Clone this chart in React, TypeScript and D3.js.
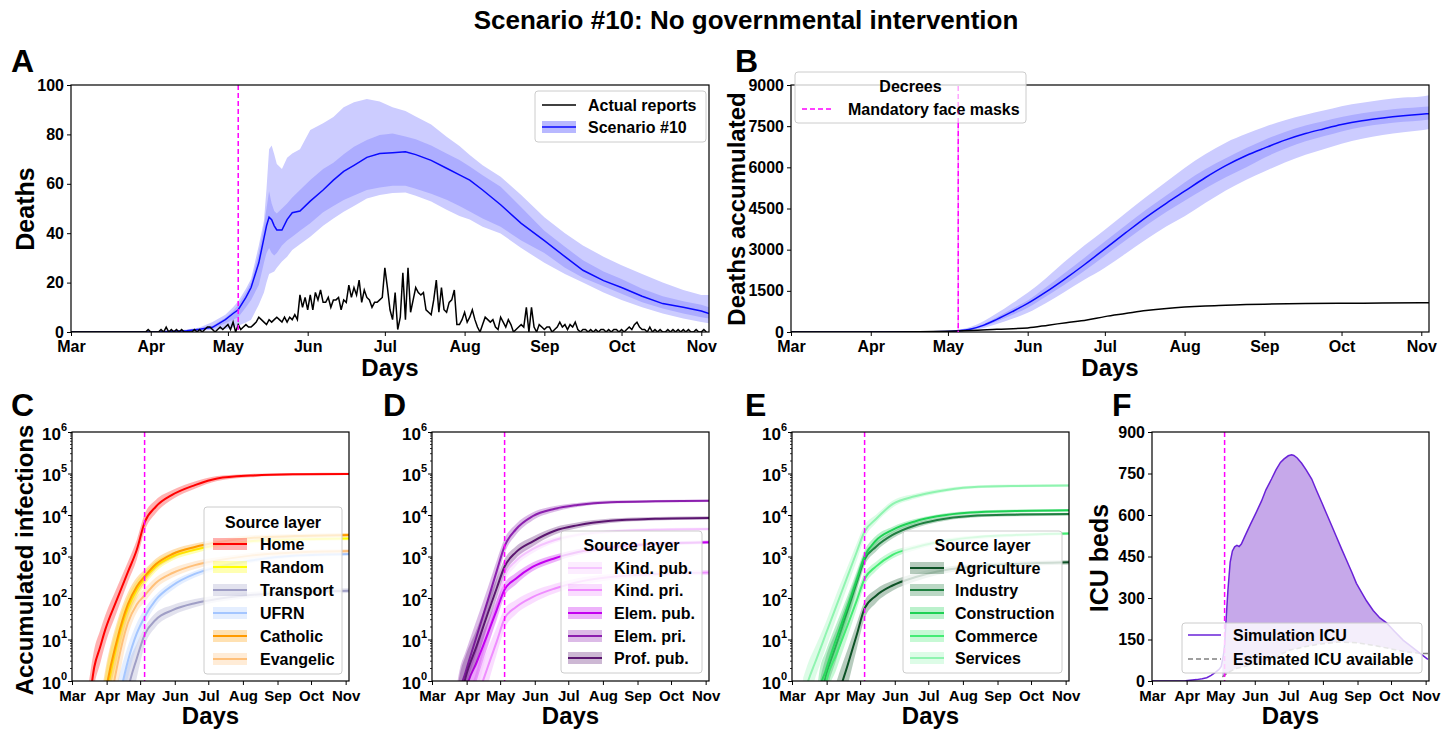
import React, { useEffect, useRef } from 'react';
import * as d3 from 'd3';

const FONT = "'Liberation Sans', Arial, Helvetica, sans-serif";

// ---------------- shared axis data ----------------
const MONTH_LABELS = ['Mar', 'Apr', 'May', 'Jun', 'Jul', 'Aug', 'Sep', 'Oct', 'Nov'];
const MONTH_DAYS = [0, 31, 61, 92, 122, 153, 184, 214, 245];
const DAY_MAX = 248;
const DECREE_DAY = 65;
const DEATH_TICKS = [0, 20, 40, 60, 80, 100];
const CUM_TICKS = [0, 1500, 3000, 4500, 6000, 7500, 9000];
const ICU_TICKS = [0, 150, 300, 450, 600, 750, 900];
const LOG_TICKS = [1, 10, 100, 1000, 10000, 100000, 1000000];

// ---------------- panel A: daily deaths ----------------
const ACTUAL_DAILY = [
  0, 0, 0, 0, 0, 0, 0, 0, 0, 0,
  0, 0, 0, 0, 0, 0, 0, 0, 0, 0,
  0, 0, 0, 0, 0, 0, 0, 0, 0, 0,
  1, 0, 0, 0, 0, 1, 0, 2, 0, 1,
  0, 1, 0, 1, 0, 0, 0, 0, 1, 0,
  1, 0, 1, 2, 2, 1, 0, 1, 2, 1,
  2, 3, 1, 4, 0, 3, 1, 2, 3, 2,
  2, 3, 4, 6, 5, 4, 3, 5, 4, 5,
  6, 5, 4, 6, 4, 6, 5, 7, 5, 15,
  10, 14, 9, 15, 9, 16, 13, 17, 12, 12,
  14, 10, 13, 13, 14, 9, 13, 12, 19, 14,
  18, 15, 21, 12, 17, 14, 13, 10, 12, 12,
  13, 14, 26, 18, 9, 5, 16, 1, 6, 24,
  5, 26, 8, 13, 18, 16, 15, 16, 9, 8,
  7, 13, 21, 8, 18, 9, 8, 12, 13, 17,
  3, 3, 5, 8, 4, 6, 9, 5, 2, 0,
  3, 6, 5, 4, 5, 2, 1, 6, 4, 2,
  5, 3, 0, 1, 2, 3, 2, 10, 0, 10,
  2, 0, 3, 2, 1, 2, 2, 0, 1, 2,
  4, 2, 3, 1, 3, 2, 4, 1, 0, 1,
  1, 0, 1, 0, 1, 0, 1, 1, 0, 1,
  0, 1, 1, 0, 1, 0, 1, 2, 1, 3,
  4, 2, 1, 1, 0, 2, 0, 1, 0, 1,
  0, 0, 1, 0, 1, 0, 1, 0, 1, 0,
  1, 0, 0, 1, 0, 0, 1, 0,
];
const A_DAYS = [0, 35, 45, 50, 55, 60, 63, 65, 68, 70, 73, 75, 76, 77, 78, 79, 80, 82, 84, 86, 89, 93, 98, 102, 106, 110, 115, 120, 125, 130, 134, 140, 146, 151, 155, 160, 167, 175, 184, 192, 199, 207, 214, 222, 230, 238, 245, 248];
const A_MID = [0, 0.1, 0.5, 1.1, 1.9, 5, 7.5, 9, 14, 18, 28, 38, 43, 46.5, 45.5, 43, 41.3, 41.3, 45.5, 48.3, 49, 53, 57.5, 61.5, 65, 67.5, 70.7, 72.3, 72.6, 73, 71.8, 69.5, 66.3, 63.6, 61.5, 57.5, 51.5, 44, 37, 30.5, 25, 20.8, 18, 14.5, 11.5, 10, 8.5, 7.5];
const A_IN_HI = [0, 0.2, 0.8, 1.5, 2.5, 5.8, 8.5, 11, 16, 20, 32, 43, 50, 57, 52, 49, 48, 50, 52, 54.5, 57.5, 61.5, 66, 68.5, 72, 75, 77.7, 79.8, 80.4, 79.2, 78, 75.5, 72.3, 69.6, 67, 63.5, 58.8, 50.5, 41, 34.5, 29, 24.5, 21.5, 17.5, 14.5, 12.5, 11, 10];
const A_IN_LO = [0, 0, 0.2, 0.8, 1.2, 3.5, 5, 6, 10, 13, 19, 28, 32, 34, 32, 31, 32, 35, 37, 38.6, 41, 44, 48.5, 51, 53.4, 55.3, 57.5, 58.5, 59.2, 59.2, 58, 56, 53.5, 51, 48.8, 46, 42.6, 37, 32, 26, 22, 18.5, 15.5, 12, 9.5, 7.5, 6, 5.5];
const A_OUT_HI = [0, 0.3, 1, 1.8, 4, 7, 10, 12.5, 17.5, 21.5, 35, 45, 58, 74, 75.5, 72, 68, 66, 70.5, 72.3, 74, 81.8, 84.5, 87, 91, 93, 94.3, 93.3, 91, 89.5, 87.2, 84, 79, 75.3, 71.7, 67.5, 62.9, 55.5, 46.5, 40, 35, 30.5, 27, 23.5, 20, 17, 15, 15];
const A_OUT_LO = [0, 0, 0, 0.5, 0.8, 1.2, 1.8, 2.5, 3.8, 5, 11, 16, 20, 23.5, 24, 24.5, 26, 28.5, 30.5, 33.2, 35.5, 38.6, 43, 46, 48.7, 51, 54, 55.5, 56.3, 56.5, 55.2, 52.8, 49.5, 47, 45.5, 42.6, 39.9, 34, 28, 23.5, 20, 16, 13, 10, 7.5, 5.5, 4, 3.5];

// ---------------- panel B: accumulated deaths ----------------
const B_DAYS = [0, 50, 60, 65, 70, 75, 80, 86, 92, 99, 106, 114, 122, 130, 138, 146, 153, 161, 169, 177, 184, 192, 200, 207, 214, 222, 230, 238, 245, 248];
const B_MID = [0, 5, 20, 45, 110, 250, 460, 740, 1040, 1450, 1900, 2450, 3030, 3610, 4180, 4700, 5130, 5620, 6060, 6430, 6700, 6990, 7230, 7400, 7560, 7700, 7800, 7880, 7935, 7955];
const B_IN_HI = [0, 7, 25, 55, 140, 300, 540, 850, 1150, 1620, 2120, 2700, 3300, 3880, 4450, 4980, 5450, 5930, 6330, 6700, 7000, 7290, 7520, 7680, 7830, 7970, 8070, 8150, 8200, 8220];
const B_IN_LO = [0, 4, 15, 35, 90, 200, 380, 620, 880, 1280, 1700, 2220, 2780, 3330, 3880, 4380, 4780, 5230, 5640, 6000, 6350, 6680, 6950, 7130, 7310, 7470, 7580, 7660, 7710, 7740];
const B_OUT_HI = [0, 10, 35, 80, 190, 400, 680, 1050, 1430, 1950, 2530, 3150, 3730, 4330, 4920, 5480, 5980, 6480, 6900, 7220, 7470, 7720, 7920, 8070, 8230, 8350, 8460, 8540, 8580, 8630];
const B_OUT_LO = [0, 2, 10, 20, 60, 150, 290, 480, 700, 1050, 1440, 1900, 2340, 2850, 3370, 3850, 4220, 4700, 5160, 5550, 5850, 6180, 6460, 6660, 6860, 7040, 7180, 7280, 7350, 7400];
const ACT_CUM_DAYS = [0, 30, 50, 61, 70, 80, 92, 100, 107, 115, 122, 130, 138, 146, 153, 161, 169, 177, 184, 200, 214, 230, 245, 248];
const ACT_CUM = [0, 1, 12, 30, 55, 100, 150, 250, 340, 440, 560, 670, 780, 860, 910, 950, 975, 1000, 1015, 1035, 1045, 1055, 1065, 1068];

// ---------------- panels C, D, E: accumulated infections by layer ----------------
const LOG_DAYS = [10, 15, 20, 25, 30, 40, 50, 58, 65, 75, 90, 110, 130, 160, 200, 248];
// C
const HOME_MID = [0.03, 0.25, 2.2, 6.3, 18, 89, 420, 1450, 6600, 15800, 30900, 52500, 75900, 89100, 95500, 97700];
const HOME_LO = [0.01, 0.08, 0.8, 2.5, 8, 45, 240, 850, 4100, 11000, 24000, 43000, 66000, 81000, 89000, 91500];
const HOME_HI = [0.12, 0.9, 6, 16, 40, 175, 740, 2500, 10500, 23000, 40000, 64000, 87000, 97500, 102000, 104000];
const RANDOM_MID = [0.001, 0.001, 0.003, 0.03, 0.3, 7, 56, 160, 295, 575, 1000, 1450, 1860, 2340, 2570, 2700];
const RANDOM_LO = [0.001, 0.001, 0.001, 0.01, 0.1, 2.5, 28, 95, 200, 430, 800, 1200, 1600, 2050, 2300, 2450];
const RANDOM_HI = [0.001, 0.003, 0.02, 0.2, 1.5, 20, 110, 260, 430, 780, 1250, 1750, 2200, 2700, 2900, 3000];
const TRANSPORT_MID = [0.001, 0.001, 0.001, 0.001, 0.001, 0.01, 0.6, 3.5, 13, 30, 51, 75, 95, 118, 138, 150];
const TRANSPORT_LO = [0.001, 0.001, 0.001, 0.001, 0.001, 0.001, 0.1, 1.2, 7, 20, 38, 60, 80, 100, 120, 132];
const TRANSPORT_HI = [0.001, 0.001, 0.001, 0.001, 0.01, 0.2, 2.5, 8, 20, 44, 68, 95, 115, 140, 160, 172];
const UFRN_MID = [0.001, 0.001, 0.001, 0.001, 0.01, 0.2, 3, 14, 35, 90, 200, 380, 550, 800, 1050, 1150];
const UFRN_LO = [0.001, 0.001, 0.001, 0.001, 0.001, 0.05, 1.2, 7, 22, 65, 155, 310, 470, 700, 940, 1040];
const UFRN_HI = [0.001, 0.001, 0.001, 0.005, 0.05, 0.8, 7, 25, 55, 120, 250, 450, 630, 900, 1160, 1260];
const CATHOLIC_MID = [0.001, 0.001, 0.005, 0.05, 0.5, 9, 70, 190, 330, 650, 1150, 1700, 2200, 2800, 3100, 3300];
const CATHOLIC_LO = [0.001, 0.001, 0.001, 0.01, 0.15, 3, 35, 115, 230, 490, 900, 1400, 1850, 2400, 2750, 2950];
const CATHOLIC_HI = [0.001, 0.005, 0.04, 0.3, 2, 25, 135, 310, 480, 880, 1450, 2050, 2600, 3250, 3500, 3700];
const EVANGELIC_MID = [0.001, 0.001, 0.001, 0.005, 0.05, 2, 25, 70, 115, 230, 400, 620, 800, 1050, 1250, 1350];
const EVANGELIC_LO = [0.001, 0.001, 0.001, 0.001, 0.005, 0.5, 12, 45, 80, 170, 310, 500, 680, 900, 1100, 1200];
const EVANGELIC_HI = [0.001, 0.001, 0.005, 0.04, 0.3, 6, 50, 110, 170, 310, 520, 770, 960, 1220, 1420, 1500];
// D
const KINDPUB_MID = [0.001, 0.001, 0.001, 0.02, 0.2, 1.5, 14, 70, 340, 780, 1500, 2500, 3300, 4000, 4400, 4600];
const KINDPUB_LO = [0.001, 0.001, 0.001, 0.005, 0.05, 0.5, 6, 38, 220, 580, 1200, 2150, 2950, 3650, 4050, 4250];
const KINDPUB_HI = [0.001, 0.001, 0.005, 0.08, 0.7, 4, 30, 120, 500, 1050, 1850, 2900, 3700, 4400, 4800, 5000];
const KINDPRI_MID = [0.001, 0.001, 0.001, 0.001, 0.01, 0.3, 2.2, 9, 32, 60, 105, 170, 240, 320, 380, 410];
const KINDPRI_LO = [0.001, 0.001, 0.001, 0.001, 0.001, 0.05, 0.8, 4.5, 18, 40, 75, 130, 190, 270, 330, 360];
const KINDPRI_HI = [0.001, 0.001, 0.001, 0.001, 0.1, 1.2, 6, 20, 55, 90, 145, 220, 300, 380, 440, 470];
const ELEMPUB_MID = [0.001, 0.001, 0.001, 0.05, 0.5, 2.8, 14, 52, 160, 290, 560, 910, 1260, 1660, 2000, 2200];
const ELEMPUB_LO = [0.001, 0.001, 0.001, 0.01, 0.1, 1, 7, 30, 110, 210, 440, 740, 1080, 1450, 1800, 2000];
const ELEMPUB_HI = [0.001, 0.001, 0.01, 0.3, 1.5, 7, 28, 90, 230, 400, 720, 1100, 1500, 1880, 2230, 2420];
const ELEMPRI_MID = [0.001, 0.001, 0.02, 0.5, 1.6, 12, 89, 450, 1780, 4470, 9330, 14100, 17400, 20400, 21400, 21900];
const ELEMPRI_LO = [0.001, 0.001, 0.005, 0.1, 0.6, 5, 45, 260, 1200, 3300, 7400, 12000, 15500, 18800, 20000, 20600];
const ELEMPRI_HI = [0.001, 0.02, 0.3, 2, 5, 30, 180, 800, 2700, 6000, 11500, 16500, 19500, 22300, 23000, 23400];
const PROFPUB_MID = [0.001, 0.003, 0.03, 0.3, 1.2, 7, 43, 174, 575, 1260, 2290, 4170, 5620, 7240, 8130, 8510];
const PROFPUB_LO = [0.001, 0.001, 0.005, 0.05, 0.4, 3, 22, 100, 380, 900, 1750, 3400, 4800, 6400, 7400, 7800];
const PROFPUB_HI = [0.001, 0.02, 0.2, 1.5, 4, 18, 90, 300, 870, 1750, 3000, 5100, 6600, 8200, 9000, 9300];
// E
const AGRI_MID = [0.001, 0.001, 0.001, 0.001, 0.01, 0.3, 2.5, 13, 56, 112, 200, 316, 436, 562, 660, 724];
const AGRI_LO = [0.001, 0.001, 0.001, 0.001, 0.001, 0.05, 0.8, 6, 32, 75, 150, 250, 360, 480, 580, 640];
const AGRI_HI = [0.001, 0.001, 0.001, 0.001, 0.1, 1, 6, 25, 85, 160, 260, 390, 520, 650, 750, 810];
const INDUSTRY_MID = [0.001, 0.001, 0.01, 0.3, 1.2, 8, 52, 240, 850, 1700, 3300, 5600, 7600, 9500, 10200, 10500];
const INDUSTRY_LO = [0.001, 0.001, 0.002, 0.05, 0.4, 3.5, 28, 150, 600, 1300, 2700, 4800, 6700, 8600, 9300, 9600];
const INDUSTRY_HI = [0.001, 0.01, 0.1, 1, 3.5, 18, 95, 380, 1200, 2200, 4000, 6500, 8500, 10400, 11100, 11400];
const CONSTR_MID = [0.001, 0.001, 0.02, 0.6, 1.7, 11, 65, 280, 1000, 2400, 4400, 7000, 9300, 11500, 12500, 13000];
const CONSTR_LO = [0.001, 0.001, 0.005, 0.1, 0.6, 5, 35, 170, 700, 1850, 3700, 6100, 8300, 10500, 11500, 12000];
const CONSTR_HI = [0.001, 0.02, 0.2, 2, 5, 25, 120, 450, 1400, 3100, 5200, 8000, 10300, 12500, 13500, 14000];
const COMMERCE_MID = [0.001, 0.001, 0.001, 0.1, 0.8, 4.5, 23, 88, 290, 570, 1100, 1650, 2200, 2850, 3300, 3600];
const COMMERCE_LO = [0.001, 0.001, 0.001, 0.02, 0.3, 2, 12, 55, 200, 440, 900, 1420, 1950, 2550, 3000, 3300];
const COMMERCE_HI = [0.001, 0.001, 0.01, 0.5, 2.2, 11, 45, 140, 400, 740, 1350, 1900, 2500, 3150, 3600, 3900];
const SERVICES_MID = [0.4, 1.1, 2.5, 5.6, 13, 67, 350, 1300, 4000, 7900, 18200, 28200, 37000, 46800, 50100, 51300];
const SERVICES_LO = [0.1, 0.3, 1, 2.5, 6, 35, 200, 800, 2800, 6300, 15000, 24500, 33000, 43000, 46500, 48000];
const SERVICES_HI = [1.2, 3, 6, 12, 25, 130, 600, 2100, 5700, 10000, 22000, 32500, 41500, 51000, 54000, 55000];

// ---------------- panel F: ICU ----------------
const ICU_DAYS = [0, 20, 30, 34, 40, 45, 49, 53, 57, 60, 62, 64, 65, 66, 67, 68, 70, 72, 74, 76, 78, 80, 83, 88, 93, 98, 102, 107, 111, 115, 118, 122, 125, 127, 130, 134, 138, 143, 147, 152, 156, 161, 165, 170, 174, 179, 183, 188, 192, 198, 204, 210, 217, 225, 232, 240, 247];
const ICU_SIM = [0, 0, 1, 2.4, 5, 8, 12, 20, 32, 42, 53, 95, 130, 200, 265, 330, 430, 470, 485, 490, 486, 495, 522, 565, 607, 650, 691, 730, 763, 790, 802, 814, 818, 815, 806, 787, 763, 730, 691, 645, 607, 560, 522, 475, 438, 392, 353, 318, 290, 255, 228, 210, 180, 147, 125, 100, 78];
const AVAIL_DAYS = [63, 68, 75, 87, 98, 108, 123, 138, 153, 168, 183, 198, 213, 228, 242, 248];
const AVAIL_ICU = [15, 30, 45, 56, 68, 81, 111, 125, 135, 141, 138, 129, 117, 105, 99, 99];

// ---------------- layout ----------------
type Box = { l: number; r: number; t: number; b: number };
const BOX_A: Box = { l: 71, r: 709, t: 85, b: 332 };
const BOX_B: Box = { l: 791, r: 1429, t: 85, b: 332 };
const BOX_C: Box = { l: 72, r: 349, t: 432, b: 681 };
const BOX_D: Box = { l: 432, r: 709, t: 432, b: 681 };
const BOX_E: Box = { l: 792, r: 1069, t: 432, b: 681 };
const BOX_F: Box = { l: 1152, r: 1429, t: 432, b: 681 };

function styleText(sel: any, size: number) {
  sel.attr('font-family', FONT).attr('font-weight', 'bold').attr('font-size', size).attr('fill', '#000');
}

function clipFor(defs: any, id: string, box: Box) {
  defs.append('clipPath').attr('id', id).append('rect')
    .attr('x', box.l).attr('y', box.t).attr('width', box.r - box.l).attr('height', box.b - box.t);
}

function xAxis(g: any, x: any, box: Box, size: number) {
  const ax = g.append('g').attr('transform', `translate(0,${box.b})`)
    .call(d3.axisBottom(x).tickValues(MONTH_DAYS).tickFormat((_: any, i: number) => MONTH_LABELS[i]).tickSize(4).tickPadding(5));
  ax.select('.domain').remove();
  styleText(ax.selectAll('text'), size);
  ax.selectAll('line').attr('stroke', '#000');
}

function yAxisLinear(g: any, y: any, box: Box, ticks: number[], size: number) {
  const ax = g.append('g').attr('transform', `translate(${box.l},0)`)
    .call(d3.axisLeft(y).tickValues(ticks).tickFormat(d3.format('d')).tickSize(4).tickPadding(3));
  ax.select('.domain').remove();
  styleText(ax.selectAll('text'), size);
  ax.selectAll('line').attr('stroke', '#000');
}

function yAxisLog(g: any, y: any, box: Box) {
  const ax = g.append('g').attr('transform', `translate(${box.l},0)`)
    .call(d3.axisLeft(y).tickValues(LOG_TICKS).tickFormat(() => '').tickSize(4).tickPadding(1));
  ax.select('.domain').remove();
  ax.selectAll('line').attr('stroke', '#000');
  ax.selectAll('.tick text').each(function (this: any, d: any) {
    const t = d3.select(this);
    styleText(t, 17);
    t.attr('dy', '0.42em');
    t.append('tspan').text('10');
    t.append('tspan').attr('dy', '-0.8em').attr('font-size', 11).text(String(Math.round(Math.log10(d))));
  });
  const minor: number[] = [];
  for (let e = 0; e < 6; e++) for (let k = 2; k < 10; k++) minor.push(k * Math.pow(10, e));
  g.append('g').selectAll('line').data(minor).join('line')
    .attr('x1', box.l - 2).attr('x2', box.l).attr('y1', (d: number) => y(d)).attr('y2', (d: number) => y(d))
    .attr('stroke', '#000').attr('stroke-width', 0.8);
}

function frame(g: any, box: Box) {
  g.append('rect').attr('x', box.l).attr('y', box.t).attr('width', box.r - box.l).attr('height', box.b - box.t)
    .attr('fill', 'none').attr('stroke', '#000').attr('stroke-width', 1.2);
}

function decree(g: any, x: any, box: Box, top?: number) {
  g.append('line').attr('x1', x(DECREE_DAY)).attr('x2', x(DECREE_DAY))
    .attr('y1', top ?? box.t).attr('y2', box.b)
    .attr('stroke', '#ff00ff').attr('stroke-width', 1.5).attr('stroke-dasharray', '5,3');
}

function label(g: any, text: string, x: number, y: number, size: number, rotate = false, anchor = 'middle') {
  const t = g.append('text').attr('text-anchor', anchor).text(text);
  styleText(t, size);
  if (rotate) t.attr('transform', `translate(${x},${y}) rotate(-90)`);
  else t.attr('x', x).attr('y', y);
  return t;
}

interface Entry { label: string; color: string; kind: 'band' | 'line' | 'dash'; band?: string; bandOpacity?: number; width?: number }

function legend(g: any, o: { x: number; y: number; w: number; h: number; title?: string; titleY?: number; entries: Entry[]; ys: number[]; px: number; pw: number; tx: number; size: number }) {
  g.append('rect').attr('x', o.x).attr('y', o.y).attr('width', o.w).attr('height', o.h).attr('rx', 3)
    .attr('fill', '#fff').attr('fill-opacity', 0.8).attr('stroke', '#cccccc').attr('stroke-width', 1);
  if (o.title) label(g, o.title, o.x + o.w / 2, o.titleY as number, o.size);
  o.entries.forEach((e, i) => {
    const cy = o.ys[i];
    if (e.kind === 'band') {
      g.append('rect').attr('x', o.px).attr('y', cy - 6).attr('width', o.pw).attr('height', 12)
        .attr('fill', e.band ?? e.color).attr('fill-opacity', e.bandOpacity ?? 0.3);
    }
    const ln = g.append('line').attr('x1', o.px).attr('x2', o.px + o.pw).attr('y1', cy).attr('y2', cy)
      .attr('stroke', e.color).attr('stroke-width', e.width ?? 2);
    if (e.kind === 'dash') ln.attr('stroke-dasharray', '5,3');
    const t = g.append('text').attr('x', o.tx).attr('y', cy).attr('dy', '0.36em').text(e.label);
    styleText(t, o.size);
  });
}

interface LogSeries { name: string; color: string; mid: number[]; lo: number[]; hi: number[]; op?: number }

function logPanel(svg: any, defs: any, id: string, box: Box, series: LogSeries[]) {
  const x = d3.scaleLinear().domain([0, DAY_MAX]).range([box.l, box.r]);
  const y = d3.scaleLog().domain([1, 1e6]).range([box.b, box.t]);
  clipFor(defs, id, box);
  const plot = svg.append('g').attr('clip-path', `url(#${id})`);
  const area = d3.area<any>().x((p) => x(p.d)).y0((p) => y(p.lo)).y1((p) => y(p.hi)).curve(d3.curveMonotoneX);
  const line = d3.line<any>().x((p) => x(p.d)).y((p) => y(p.m)).curve(d3.curveMonotoneX);
  series.forEach((s) => {
    const pts = LOG_DAYS.map((d, i) => ({ d, m: s.mid[i], lo: s.lo[i], hi: s.hi[i] }));
    plot.append('path').datum(pts).attr('d', area).attr('fill', s.color).attr('fill-opacity', s.op ?? 0.3);
    plot.append('path').datum(pts).attr('d', line).attr('fill', 'none').attr('stroke', s.color).attr('stroke-width', 2);
  });
  decree(plot, x, box);
  frame(svg, box);
  xAxis(svg, x, box, 15);
  yAxisLog(svg, y, box);
  label(svg, 'Days', (box.l + box.r) / 2, 724, 24);
  return { x, y };
}

function draw(svgEl: SVGSVGElement) {
  const svg = d3.select(svgEl);
  svg.selectAll('*').remove();
  const defs = svg.append('defs');

  label(svg, 'Scenario #10: No governmental intervention', 746, 29, 26);

  // ---------- A ----------
  {
    const box = BOX_A;
    const x = d3.scaleLinear().domain([0, DAY_MAX]).range([box.l, box.r]);
    const y = d3.scaleLinear().domain([0, 100]).range([box.b, box.t]);
    clipFor(defs, 'clipA', box);
    const plot = svg.append('g').attr('clip-path', 'url(#clipA)');
    const pts = A_DAYS.map((d, i) => ({ d, m: A_MID[i], il: A_IN_LO[i], ih: A_IN_HI[i], ol: A_OUT_LO[i], oh: A_OUT_HI[i] }));
    plot.append('path').datum(pts).attr('d', d3.area<any>().x((p) => x(p.d)).y0((p) => y(p.ol)).y1((p) => y(p.oh))).attr('fill', '#ccccff');
    plot.append('path').datum(pts).attr('d', d3.area<any>().x((p) => x(p.d)).y0((p) => y(p.il)).y1((p) => y(p.ih))).attr('fill', '#adadff');
    plot.append('path').datum(pts).attr('d', d3.line<any>().x((p) => x(p.d)).y((p) => y(p.m))).attr('fill', 'none').attr('stroke', '#0a0aff').attr('stroke-width', 1.5);
    plot.append('path').datum(ACTUAL_DAILY).attr('d', d3.line<number>().x((_, i) => x(i)).y((v) => y(v))).attr('fill', 'none').attr('stroke', '#000').attr('stroke-width', 1.5);
    decree(plot, x, box);
    frame(svg, box);
    xAxis(svg, x, box, 16);
    yAxisLinear(svg, y, box, DEATH_TICKS, 16);
    label(svg, 'A', 11, 72, 32, false, 'start');
    label(svg, 'Deaths', 34, 209, 25, true);
    label(svg, 'Days', 390, 376, 24);
    legend(svg, {
      x: 535, y: 91, w: 171, h: 51, ys: [105, 127], px: 542, pw: 34, tx: 588, size: 16,
      entries: [
        { label: 'Actual reports', color: '#000', kind: 'line', width: 1.5 },
        { label: 'Scenario #10', color: '#0a0aff', kind: 'band', band: '#b8b8ff', bandOpacity: 1, width: 1.5 },
      ],
    });
  }

  // ---------- B ----------
  {
    const box = BOX_B;
    const x = d3.scaleLinear().domain([0, DAY_MAX]).range([box.l, box.r]);
    const y = d3.scaleLinear().domain([0, 9000]).range([box.b, box.t]);
    clipFor(defs, 'clipB', box);
    const plot = svg.append('g').attr('clip-path', 'url(#clipB)');
    const pts = B_DAYS.map((d, i) => ({ d, m: B_MID[i], il: B_IN_LO[i], ih: B_IN_HI[i], ol: B_OUT_LO[i], oh: B_OUT_HI[i] }));
    const c = d3.curveMonotoneX;
    plot.append('path').datum(pts).attr('d', d3.area<any>().x((p) => x(p.d)).y0((p) => y(p.ol)).y1((p) => y(p.oh)).curve(c)).attr('fill', '#ccccff');
    plot.append('path').datum(pts).attr('d', d3.area<any>().x((p) => x(p.d)).y0((p) => y(p.il)).y1((p) => y(p.ih)).curve(c)).attr('fill', '#adadff');
    plot.append('path').datum(pts).attr('d', d3.line<any>().x((p) => x(p.d)).y((p) => y(p.m)).curve(c)).attr('fill', 'none').attr('stroke', '#0a0aff').attr('stroke-width', 1.5);
    const act = ACT_CUM_DAYS.map((d, i) => ({ d, v: ACT_CUM[i] }));
    plot.append('path').datum(act).attr('d', d3.line<any>().x((p) => x(p.d)).y((p) => y(p.v)).curve(c)).attr('fill', 'none').attr('stroke', '#000').attr('stroke-width', 1.5);
    frame(svg, box);
    xAxis(svg, x, box, 16);
    yAxisLinear(svg, y, box, CUM_TICKS, 16);
    label(svg, 'B', 735, 72, 32, false, 'start');
    label(svg, 'Deaths accumulated', 745, 209, 24, true);
    label(svg, 'Days', 1110, 376, 24);
    legend(svg, {
      x: 795, y: 72, w: 231, h: 51, title: 'Decrees', titleY: 92, ys: [109], px: 802, pw: 32, tx: 848, size: 16,
      entries: [{ label: 'Mandatory face masks', color: '#ff00ff', kind: 'dash', width: 1.5 }],
    });
    decree(svg.append('g').attr('opacity', 0.35), x, box, 86);
    decree(svg, x, { ...box, t: 123 });
  }

  // ---------- C ----------
  logPanel(svg, defs, 'clipC', BOX_C, [
    { name: 'Home', color: '#ff0000', mid: HOME_MID, lo: HOME_LO, hi: HOME_HI },
    { name: 'Random', color: '#ffff00', mid: RANDOM_MID, lo: RANDOM_LO, hi: RANDOM_HI },
    { name: 'Transport', color: '#a09fc6', mid: TRANSPORT_MID, lo: TRANSPORT_LO, hi: TRANSPORT_HI },
    { name: 'UFRN', color: '#a4c6ff', mid: UFRN_MID, lo: UFRN_LO, hi: UFRN_HI },
    { name: 'Catholic', color: '#ff9a00', mid: CATHOLIC_MID, lo: CATHOLIC_LO, hi: CATHOLIC_HI },
    { name: 'Evangelic', color: '#ffc07a', mid: EVANGELIC_MID, lo: EVANGELIC_LO, hi: EVANGELIC_HI },
  ]);
  label(svg, 'C', 11, 416, 32, false, 'start');
  label(svg, 'Accumulated infections', 33, 560, 24, true);
  legend(svg, {
    x: 204, y: 507, w: 138, h: 167, title: 'Source layer', titleY: 528, ys: [544, 567, 590, 613, 636, 659], px: 213, pw: 34, tx: 260, size: 16,
    entries: [
      { label: 'Home', color: '#ff0000', kind: 'band' },
      { label: 'Random', color: '#ffff00', kind: 'band' },
      { label: 'Transport', color: '#a09fc6', kind: 'band' },
      { label: 'UFRN', color: '#a4c6ff', kind: 'band' },
      { label: 'Catholic', color: '#ff9a00', kind: 'band' },
      { label: 'Evangelic', color: '#ffc07a', kind: 'band' },
    ],
  });

  // ---------- D ----------
  logPanel(svg, defs, 'clipD', BOX_D, [
    { name: 'Kind. pub.', color: '#f5c4ff', mid: KINDPUB_MID, lo: KINDPUB_LO, hi: KINDPUB_HI },
    { name: 'Kind. pri.', color: '#ef8dff', mid: KINDPRI_MID, lo: KINDPRI_LO, hi: KINDPRI_HI },
    { name: 'Elem. pub.', color: '#c300f0', mid: ELEMPUB_MID, lo: ELEMPUB_LO, hi: ELEMPUB_HI },
    { name: 'Elem. pri.', color: '#8b1fae', mid: ELEMPRI_MID, lo: ELEMPRI_LO, hi: ELEMPRI_HI },
    { name: 'Prof. pub.', color: '#5b1570', mid: PROFPUB_MID, lo: PROFPUB_LO, hi: PROFPUB_HI },
  ]);
  label(svg, 'D', 383, 416, 32, false, 'start');
  legend(svg, {
    x: 561, y: 531, w: 141, h: 142, title: 'Source layer', titleY: 551, ys: [568, 590, 613, 636, 658], px: 568, pw: 34, tx: 614, size: 16,
    entries: [
      { label: 'Kind. pub.', color: '#f5c4ff', kind: 'band' },
      { label: 'Kind. pri.', color: '#ef8dff', kind: 'band' },
      { label: 'Elem. pub.', color: '#c300f0', kind: 'band' },
      { label: 'Elem. pri.', color: '#8b1fae', kind: 'band' },
      { label: 'Prof. pub.', color: '#5b1570', kind: 'band' },
    ],
  });

  // ---------- E ----------
  logPanel(svg, defs, 'clipE', BOX_E, [
    { name: 'Agriculture', color: '#0d5226', mid: AGRI_MID, lo: AGRI_LO, hi: AGRI_HI },
    { name: 'Industry', color: '#1e7f40', mid: INDUSTRY_MID, lo: INDUSTRY_LO, hi: INDUSTRY_HI },
    { name: 'Construction', color: '#1fd155', mid: CONSTR_MID, lo: CONSTR_LO, hi: CONSTR_HI },
    { name: 'Commerce', color: '#44ec74', mid: COMMERCE_MID, lo: COMMERCE_LO, hi: COMMERCE_HI },
    { name: 'Services', color: '#8ff4b0', mid: SERVICES_MID, lo: SERVICES_LO, hi: SERVICES_HI },
  ]);
  label(svg, 'E', 745, 416, 32, false, 'start');
  legend(svg, {
    x: 903, y: 531, w: 159, h: 142, title: 'Source layer', titleY: 551, ys: [568, 590, 613, 636, 658], px: 910, pw: 34, tx: 955, size: 16,
    entries: [
      { label: 'Agriculture', color: '#0d5226', kind: 'band' },
      { label: 'Industry', color: '#1e7f40', kind: 'band' },
      { label: 'Construction', color: '#1fd155', kind: 'band' },
      { label: 'Commerce', color: '#44ec74', kind: 'band' },
      { label: 'Services', color: '#8ff4b0', kind: 'band' },
    ],
  });

  // ---------- F ----------
  {
    const box = BOX_F;
    const x = d3.scaleLinear().domain([0, DAY_MAX]).range([box.l, box.r]);
    const y = d3.scaleLinear().domain([0, 900]).range([box.b, box.t]);
    clipFor(defs, 'clipF', box);
    const plot = svg.append('g').attr('clip-path', 'url(#clipF)');
    const simAt = d3.scaleLinear().domain(ICU_DAYS).range(ICU_SIM).clamp(true);
    const availAt = d3.scaleLinear().domain(AVAIL_DAYS).range(AVAIL_ICU).clamp(true);
    const fillDays = d3.range(AVAIL_DAYS[0], ICU_DAYS[ICU_DAYS.length - 1] + 0.5, 0.5);
    plot.append('path').datum(fillDays)
      .attr('d', d3.area<number>().x((d) => x(d)).y0((d) => y(availAt(d))).y1((d) => y(Math.max(simAt(d), availAt(d)))))
      .attr('fill', '#c6a8ea');
    const avail = AVAIL_DAYS.map((d, i) => ({ d, v: AVAIL_ICU[i] }));
    plot.append('path').datum(avail).attr('d', d3.line<any>().x((p) => x(p.d)).y((p) => y(p.v)))
      .attr('fill', 'none').attr('stroke', '#808080').attr('stroke-width', 1.5).attr('stroke-dasharray', '5,3');
    const sim = ICU_DAYS.map((d, i) => ({ d, v: ICU_SIM[i] }));
    plot.append('path').datum(sim).attr('d', d3.line<any>().x((p) => x(p.d)).y((p) => y(p.v)))
      .attr('fill', 'none').attr('stroke', '#6a22d8').attr('stroke-width', 1.5);
    decree(plot, x, box);
    frame(svg, box);
    xAxis(svg, x, box, 15);
    yAxisLinear(svg, y, box, ICU_TICKS, 16);
    label(svg, 'F', 1112, 416, 32, false, 'start');
    label(svg, 'ICU beds', 1108, 558, 25, true);
    label(svg, 'Days', (box.l + box.r) / 2, 724, 24);
    legend(svg, {
      x: 1182, y: 623, w: 240, h: 50, ys: [635, 659], px: 1188, pw: 33, tx: 1233, size: 16,
      entries: [
        { label: 'Simulation ICU', color: '#6a22d8', kind: 'line', width: 1.5 },
        { label: 'Estimated ICU available', color: '#808080', kind: 'dash', width: 1.5 },
      ],
    });
  }
}

export default function App() {
  const ref = useRef<SVGSVGElement>(null);
  useEffect(() => {
    if (ref.current) draw(ref.current);
  }, []);
  return (
    <svg ref={ref} width={1454} height={729} style={{ position: 'absolute', left: 0, top: 0, background: '#fff' }} />
  );
}
